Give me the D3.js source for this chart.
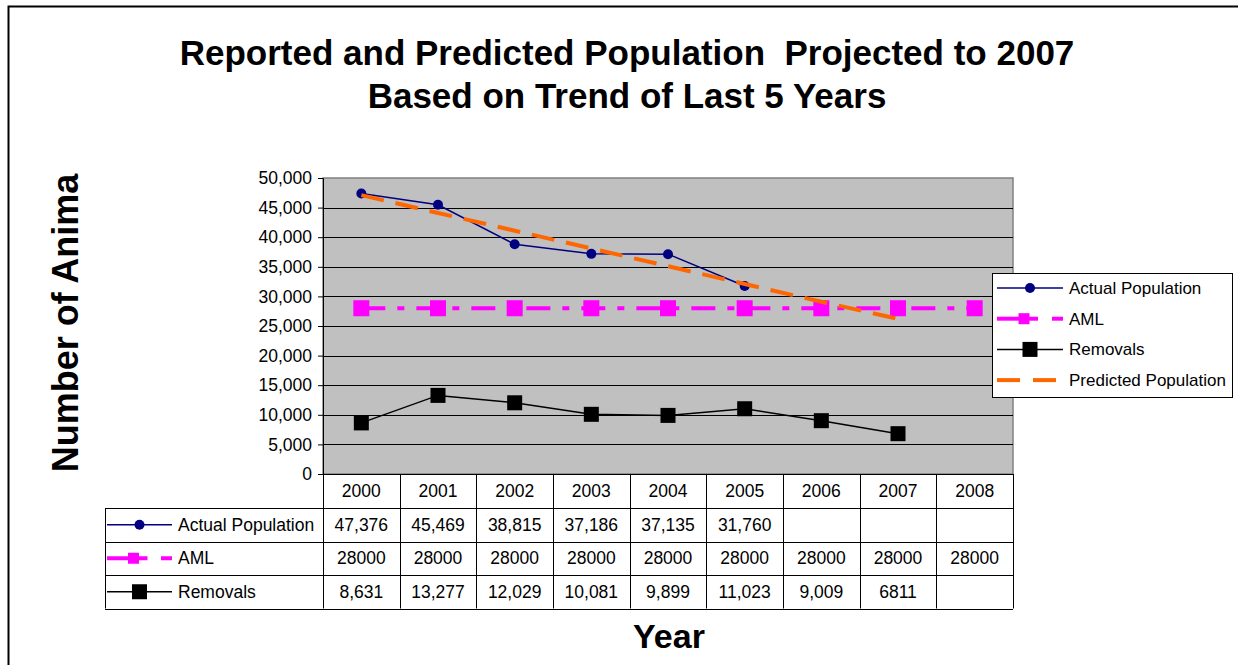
<!DOCTYPE html>
<html>
<head>
<meta charset="utf-8">
<script src="https://cdn.jsdelivr.net/npm/d3@7"></script>
<style>
  html, body { margin: 0; padding: 0; background: #fff; }
  svg { display: block; font-family: "Liberation Sans", Arial, sans-serif; }
</style>
</head>
<body>
<svg id="chart" width="1238" height="665"></svg>
<script>
// ---- data ----
const years = ["2000", "2001", "2002", "2003", "2004", "2005", "2006", "2007", "2008"];
const actualPopulation = [47376, 45469, 38815, 37186, 37135, 31760, null, null, null];
const aml = [28000, 28000, 28000, 28000, 28000, 28000, 28000, 28000, 28000];
const removals = [8631, 13277, 12029, 10081, 9899, 11023, 9009, 6811, null];
const predictedPopulation = [47100, 44100, 41100, 38100, 35100, 32100, 29100, 26200, null];
const yTicks = [0, 5000, 10000, 15000, 20000, 25000, 30000, 35000, 40000, 45000, 50000];

const titleLines = ["Reported and Predicted Population  Projected to 2007", "Based on Trend of Last 5 Years"];
const yTitle = "Number of Anima";
const xTitle = "Year";

// ---- layout ----
const svg = d3.select("#chart");
const plot = { left: 323, right: 1013, top: 178, bottom: 474 };
const rowH = 33.5;
const tableLeft = 105;
const FONT = 17.5;

const x = d3.scaleBand().domain(years).range([plot.left, plot.right]);
const y = d3.scaleLinear().domain([0, 50000]).range([plot.bottom, plot.top]);
const cx = d => x(d) + x.bandwidth() / 2;

const series = [
  { name: "Actual Population", values: actualPopulation, color: "#000080", width: 1.5, dash: null, marker: "circle", size: 5, fmt: d3.format(",") },
  { name: "AML", values: aml, color: "#FF00FF", width: 4, dash: "24,12,7,12", marker: "square", size: 16, fmt: d3.format("d") },
  { name: "Removals", values: removals, color: "#000000", width: 1.5, dash: null, marker: "square", size: 15,
    fmt: (v, i) => i === 7 ? d3.format("d")(v) : d3.format(",")(v) },
  { name: "Predicted Population", values: predictedPopulation, color: "#FF6600", width: 4, dash: "23,12", marker: null }
];

// outer frame
svg.append("path")
  .attr("d", "M8.5,665 V6.5 H1238")
  .attr("fill", "none").attr("stroke", "#000").attr("stroke-width", 2);

// title
svg.append("g").selectAll("text").data(titleLines).join("text")
  .attr("x", 627).attr("y", (d, i) => 65 + i * 43)
  .attr("text-anchor", "middle")
  .attr("font-size", 35).attr("font-weight", "bold")
  .style("white-space", "pre")
  .text(d => d);

// plot background
svg.append("rect")
  .attr("x", plot.left).attr("y", plot.top)
  .attr("width", plot.right - plot.left).attr("height", plot.bottom - plot.top)
  .attr("fill", "#C0C0C0").attr("stroke", "#808080").attr("stroke-width", 1.5);

// gridlines
svg.append("g").selectAll("line").data(yTicks.filter(t => t > 0 && t < 50000)).join("line")
  .attr("x1", plot.left).attr("x2", plot.right)
  .attr("y1", d => Math.round(y(d)) + 0.5).attr("y2", d => Math.round(y(d)) + 0.5)
  .attr("stroke", "#000").attr("stroke-width", 1);

// y axis
const yAxis = svg.append("g")
  .attr("transform", `translate(${plot.left},0)`)
  .call(d3.axisLeft(y).tickValues(yTicks).tickFormat(d3.format(",")).tickSize(5).tickPadding(6));
yAxis.select(".domain").attr("stroke", "#000");
yAxis.selectAll("text").attr("font-size", FONT).attr("fill", "#000")
  .attr("font-family", "'Liberation Sans', Arial, sans-serif");

// x axis line
svg.append("line")
  .attr("x1", plot.left).attr("x2", plot.right)
  .attr("y1", plot.bottom + 0.5).attr("y2", plot.bottom + 0.5)
  .attr("stroke", "#000").attr("stroke-width", 1.2);

// markers
function drawMarker(g, s, px, py, size) {
  if (s.marker === "circle") {
    g.append("circle").attr("cx", px).attr("cy", py).attr("r", size).attr("fill", s.color);
  } else if (s.marker === "square") {
    g.append("rect").attr("x", px - size / 2).attr("y", py - size / 2)
      .attr("width", size).attr("height", size).attr("fill", s.color);
  }
}

// series lines
const lineGen = d3.line().defined(d => d.v != null).x(d => cx(d.year)).y(d => y(d.v));
const drawOrder = [2, 1, 0, 3];
drawOrder.forEach(idx => {
  const s = series[idx];
  const pts = years.map((yr, i) => ({ year: yr, v: s.values[i] }));
  const g = svg.append("g");
  g.append("path").datum(pts)
    .attr("d", lineGen)
    .attr("fill", "none").attr("stroke", s.color).attr("stroke-width", s.width)
    .attr("stroke-dasharray", s.dash);
  pts.filter(p => p.v != null).forEach(p => drawMarker(g, s, cx(p.year), y(p.v), s.size));
});

// legend keys
function drawKey(g, s, x0, x1, ky) {
  const mid = (x0 + x1) / 2;
  if (s.name === "AML") {
    g.append("line").attr("x1", x0).attr("x2", x0 + 22).attr("y1", ky).attr("y2", ky)
      .attr("stroke", s.color).attr("stroke-width", s.width);
    g.append("line").attr("x1", mid - 8).attr("x2", mid + 8).attr("y1", ky).attr("y2", ky)
      .attr("stroke", s.color).attr("stroke-width", s.width);
    g.append("line").attr("x1", x1 - 11).attr("x2", x1).attr("y1", ky).attr("y2", ky)
      .attr("stroke", s.color).attr("stroke-width", s.width);
    drawMarker(g, s, mid - 6, ky, 11);
  } else if (s.name === "Predicted Population") {
    g.append("line").attr("x1", x0).attr("x2", x0 + 23).attr("y1", ky).attr("y2", ky)
      .attr("stroke", s.color).attr("stroke-width", s.width);
    g.append("line").attr("x1", x0 + 36).attr("x2", x0 + 59).attr("y1", ky).attr("y2", ky)
      .attr("stroke", s.color).attr("stroke-width", s.width);
  } else {
    g.append("line").attr("x1", x0).attr("x2", x1).attr("y1", ky).attr("y2", ky)
      .attr("stroke", s.color).attr("stroke-width", s.width);
    drawMarker(g, s, mid, ky, s.marker === "circle" ? 5 : 15);
  }
}

// data table
const table = svg.append("g");
const rowsY = [plot.bottom, plot.bottom + 34, plot.bottom + 34 + rowH, plot.bottom + 34 + 2 * rowH, plot.bottom + 34 + 3 * rowH];
const lineStyle = sel => sel.attr("stroke", "#000").attr("stroke-width", 1);

const colEdges = years.map(d => x(d)).concat([plot.right]);
colEdges.forEach(cxe => {
  table.append("line").attr("x1", Math.round(cxe) + 0.5).attr("x2", Math.round(cxe) + 0.5)
    .attr("y1", plot.bottom).attr("y2", rowsY[4]).call(lineStyle);
});
table.append("line").attr("x1", tableLeft + 0.5).attr("x2", tableLeft + 0.5)
  .attr("y1", rowsY[1]).attr("y2", rowsY[4]).call(lineStyle);
rowsY.slice(1).forEach(ry => {
  table.append("line").attr("x1", tableLeft).attr("x2", plot.right)
    .attr("y1", Math.round(ry) + 0.5).attr("y2", Math.round(ry) + 0.5).call(lineStyle);
});

// header row
table.selectAll("text.yr").data(years).join("text")
  .attr("class", "yr")
  .attr("x", d => cx(d)).attr("y", (rowsY[0] + rowsY[1]) / 2 + 6)
  .attr("text-anchor", "middle").attr("font-size", FONT).text(d => d);

// one row per plotted series with markers
series.slice(0, 3).forEach((s, r) => {
  const mid = (rowsY[r + 1] + rowsY[r + 2]) / 2;
  years.forEach((yr, i) => {
    const v = s.values[i];
    if (v == null) return;
    table.append("text").attr("x", cx(yr)).attr("y", mid + 6)
      .attr("text-anchor", "middle").attr("font-size", FONT).text(s.fmt(v, i));
  });
  drawKey(table, s, 107, 172, mid);
  table.append("text").attr("x", 178).attr("y", mid + 6).attr("font-size", FONT).text(s.name);
});

// legend box
const legend = svg.append("g");
legend.append("rect").attr("x", 992.5).attr("y", 273.5).attr("width", 240).attr("height", 124)
  .attr("fill", "#fff").attr("stroke", "#000").attr("stroke-width", 1);
series.forEach((s, i) => {
  const ly = 288 + i * 30.7;
  drawKey(legend, s, 997, 1063, ly);
  legend.append("text").attr("x", 1069).attr("y", ly + 6).attr("font-size", 17).text(s.name);
});

// axis titles
svg.append("text")
  .attr("transform", "translate(78,323) rotate(-90)")
  .attr("text-anchor", "middle").attr("font-size", 36).attr("font-weight", "bold")
  .text(yTitle);
svg.append("text")
  .attr("x", 669).attr("y", 648)
  .attr("text-anchor", "middle").attr("font-size", 34).attr("font-weight", "bold")
  .text(xTitle);
</script>
</body>
</html>
